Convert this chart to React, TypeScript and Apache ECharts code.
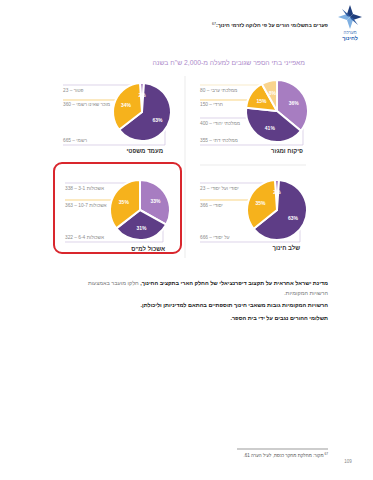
import React, { useEffect, useRef } from 'react';
import * as echarts from 'echarts';

// ---------- data ----------
const sectorNames = ['ממלכתי דתי', 'ממלכתי יהודי', 'חרדי', 'ממלכתי ערבי'];
const sectorValues = [355, 400, 150, 80];
const legalNames = ['פטור', 'רשמי', 'מוכר שאינו רשמי'];
const legalValues = [23, 665, 360];
const stageNames = ['יסודי ועל יסודי', 'על יסודי', 'יסודי'];
const stageValues = [23, 666, 366];
const clusterNames = ['אשכולות 3-1', 'אשכולות 6-4', 'אשכולות 10-7'];
const clusterValues = [338, 322, 363];
const panelTitles = ['פיקוח ומגזר', 'מעמד משפטי', 'שלב חינוך', 'אשכול למ"ס'];

const FONT = "'Liberation Sans', 'DejaVu Sans', Arial, sans-serif";
const LP = '#a77dc1';
const DP = '#5e3d86';
const YE = '#f6b21c';
const PA = '#f9d48e';
const GREY = '#8c8c8c';
const RLM = '\u200F';
const rtl = (s: string) => RLM + s + RLM;

function pie(names: string[], values: number[], colors: string[], center: number[], r: number, startAngle: number) {
  const total = values.reduce((a, b) => a + b, 0);
  return {
    type: 'pie',
    center,
    radius: r,
    startAngle,
    clockwise: true,
    avoidLabelOverlap: false,
    label: {
      show: true,
      position: 'inside',
      formatter: (p: any) => Math.round((p.value / total) * 100) + '%',
      color: '#fff',
      fontSize: 5,
      fontWeight: 'bold',
      fontFamily: FONT,
    },
    labelLine: { show: false },
    itemStyle: { borderColor: '#fff', borderWidth: 2 },
    emphasis: { disabled: true },
    z: 5,
    data: names.map((n, i) => ({ name: n, value: values[i], itemStyle: { color: colors[i] } })),
  };
}

function text(x: number, y: number, t: string, size: number, color: string, align = 'left', weight = 'normal', rich?: any) {
  return {
    type: 'text',
    x,
    y,
    z: 20,
    silent: true,
    style: {
      text: t,
      fill: color,
      fontSize: size,
      fontWeight: weight,
      fontFamily: FONT,
      align,
      textAlign: align,
      verticalAlign: 'middle',
      textVerticalAlign: 'middle',
      rich,
    },
  };
}

function line(x1: number, y1: number, x2: number, y2: number, color: string, w = 0.7) {
  return { type: 'line', z: 1, silent: true, shape: { x1, y1, x2, y2 }, style: { stroke: color, lineWidth: w } };
}
function poly(points: number[][], color: string) {
  return { type: 'polyline', z: 1, silent: true, shape: { points }, style: { stroke: color, lineWidth: 0.7, fill: null } };
}
const lab = (names: string[], values: number[], i: number) => rtl(names[i] + ' – ' + values[i]);

export default function App() {
  const ref = useRef<HTMLDivElement>(null);
  useEffect(() => {
    const chart = echarts.init(ref.current!, null, { renderer: 'svg' });
    const LL = '#cfc2e0';
    const YL = '#f5c24e';
    const PL = '#f5e2b6';
    const elements: any[] = [
      // logo
      { type: 'polygon', z: 3, silent: true, shape: { points: [[350, 5], [353, 14], [350, 17], [347, 14]] }, style: { fill: '#1f3e7c' } },
      { type: 'polygon', z: 3, silent: true, shape: { points: [[350, 29], [347, 20], [350, 17], [353, 20]] }, style: { fill: '#7fb0e2' } },
      { type: 'polygon', z: 3, silent: true, shape: { points: [[338, 17], [347, 14], [350, 17], [347, 20]] }, style: { fill: '#7fb0e2' } },
      { type: 'polygon', z: 3, silent: true, shape: { points: [[362, 17], [353, 20], [350, 17], [353, 14]] }, style: { fill: '#1f3e7c' } },
      { type: 'polygon', z: 3, silent: true, shape: { points: [[342, 9], [349, 15], [350, 17], [347, 16]] }, style: { fill: '#2d5aa0' } },
      { type: 'polygon', z: 3, silent: true, shape: { points: [[358, 25], [351, 19], [350, 17], [353, 18]] }, style: { fill: '#2d5aa0' } },
      text(350, 32, 'מערכה', 4.5, '#3f74b8', 'center'),
      text(350, 38, 'לחינוך', 5.5, '#2e66b4', 'center', 'bold'),
      // header
      text(328, 25, '{s|67}{b|' + rtl('פערים בתשלומי הורים על פי חלוקה לזרמי חינוך:') + '}', 5.2, '#222', 'right', 'bold', {
        s: { fontSize: 3.5, fontFamily: FONT, fill: '#222', padding: [0, 0, 3, 0] },
        b: { fontSize: 5.2, fontWeight: 'bold', fontFamily: FONT, fill: '#222' },
      }),
      // title
      text(305, 62, rtl('מאפייני בתי הספר שגובים למעלה מ-2,000 ש"ח בשנה'), 6.8, '#ae8ccb', 'right'),
      // separators
      line(185, 76, 185, 258, '#e6e6e6', 0.8),
      line(200, 165, 306, 165, '#e6e6e6', 0.8),
      // red box
      { type: 'rect', z: 2, silent: true, shape: { x: 54, y: 163, width: 127, height: 90, r: 8 }, style: { fill: null, stroke: '#d9262d', lineWidth: 2 } },

      // panel 1: sector
      line(200, 85, 264, 85, PL),
      line(200, 100, 250, 100, YL),
      line(200, 118, 248, 118, LL),
      poly([[200, 145], [303, 145], [303, 127]], LL),
      text(200, 90, lab(sectorNames, sectorValues, 3), 4.8, GREY),
      text(200, 104, lab(sectorNames, sectorValues, 2), 4.8, GREY),
      text(200, 123, lab(sectorNames, sectorValues, 1), 4.8, GREY),
      text(200, 140, lab(sectorNames, sectorValues, 0), 4.8, GREY),
      text(303, 151, rtl(panelTitles[0]), 6, '#333', 'right', 'bold'),

      // panel 2: legal
      line(63, 85, 141, 85, LL),
      line(63, 100, 118, 100, YL),
      poly([[63, 145], [165, 145], [165, 129]], LL),
      text(63, 90, lab(legalNames, legalValues, 0), 4.8, GREY),
      text(63, 104, lab(legalNames, legalValues, 2), 4.8, GREY),
      text(63, 140, lab(legalNames, legalValues, 1), 4.8, GREY),
      text(163, 151, rtl(panelTitles[1]), 6, '#333', 'right', 'bold'),

      // panel 3: stage
      line(200, 183, 276, 183, LL),
      line(200, 200, 252, 200, YL),
      poly([[200, 242], [300, 242], [300, 228]], LL),
      text(200, 188, lab(stageNames, stageValues, 0), 4.8, GREY),
      text(200, 205, lab(stageNames, stageValues, 2), 4.8, GREY),
      text(200, 237, lab(stageNames, stageValues, 1), 4.8, GREY),
      text(300, 248, rtl(panelTitles[2]), 6, '#333', 'right', 'bold'),

      // panel 4: cluster
      line(65, 183, 144, 183, LL),
      line(65, 200, 114, 200, YL),
      poly([[65, 242], [163, 242], [163, 228]], LL),
      text(65, 188, lab(clusterNames, clusterValues, 0), 4.8, GREY),
      text(65, 205, lab(clusterNames, clusterValues, 2), 4.8, GREY),
      text(65, 237, lab(clusterNames, clusterValues, 1), 4.8, GREY),
      text(165, 249, rtl(panelTitles[3]), 6, '#333', 'right', 'bold'),

      // body text
      text(328, 283, '{n|' + rtl('חלקו מועבר באמצעות') + '}{b|' + rtl('מדינת ישראל אחראית על תקצוב דיפרנציאלי של החלק הארי בתקציב החינוך, ') + '}', 5.5, '#222', 'right', 'bold', {
        n: { fontSize: 5.5, fontFamily: FONT, fill: '#777' },
        b: { fontSize: 5.5, fontWeight: 'bold', fontFamily: FONT, fill: '#222' },
      }),
      text(328, 293, rtl('הרשויות המקומיות.'), 5.5, '#777', 'right'),
      text(328, 305, rtl('הרשויות המקומיות גובות משאבי חינוך תוספתיים בהתאם למדיניותן וליכולתן.'), 5.5, '#222', 'right', 'bold'),
      text(328, 318, rtl('תשלומי ההורים נגבים על ידי בית הספר.'), 5.5, '#222', 'right', 'bold'),

      // footnote
      line(237, 449, 328, 449, '#bdbdbd', 1.5),
      text(328, 455, '{n|' + rtl('מקור: מחלקת מחקר כנסת, לעיל הערה 61.') + '}{s| 67}', 4.5, '#555', 'right', 'normal', {
        n: { fontSize: 4.5, fontFamily: FONT, fill: '#555' },
        s: { fontSize: 3.2, fontFamily: FONT, fill: '#555', padding: [0, 0, 3, 0] },
      }),
      text(348, 461, '109', 4.5, '#888', 'center'),
    ];

    chart.setOption({
      animation: false,
      backgroundColor: '#fff',
      series: [
        pie(sectorNames, sectorValues, [LP, DP, YE, PA], [277, 111], 31, 90),
        pie(legalNames, legalValues, [LP, DP, YE], [142, 112], 29, 94),
        pie(stageNames, stageValues, [LP, DP, YE], [277, 210], 30, 94),
        pie(clusterNames, clusterValues, [LP, DP, YE], [140, 210], 30, 90),
      ],
      graphic: { elements },
    });
    return () => chart.dispose();
  }, []);
  return <div ref={ref} style={{ position: 'absolute', left: 0, top: 0, width: 373, height: 480, background: '#fff' }} />;
}
